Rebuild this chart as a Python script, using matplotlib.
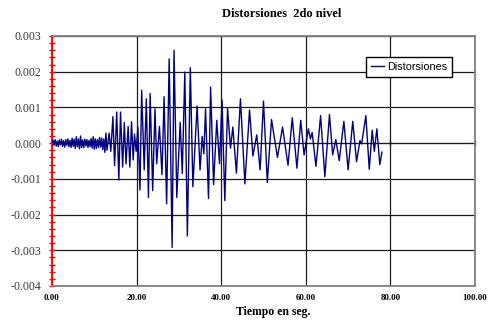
import numpy as np
import matplotlib
matplotlib.use("Agg")
import matplotlib.pyplot as plt
from matplotlib.ticker import MultipleLocator, FuncFormatter, NullFormatter

plt.rcParams["axes.unicode_minus"] = False

# Low-level ambient response sampled every 0.25 s (0 - 13 s)
noise_dt = 0.25
noise_vals = [0.0000, 0.00008, -0.00006, 0.00010, -0.00008, 0.00006, -0.00010, 0.00009,
              -0.00005, 0.00011, -0.00009, 0.00007, -0.00011, 0.00010, -0.00006, 0.00012,
              -0.00010, 0.00008, -0.00012, 0.00014, -0.00009, 0.00011, -0.00015, 0.00018,
              -0.00010, 0.00012, -0.00016, 0.00020, -0.00012, 0.00009, -0.00013, 0.00011,
              -0.00008, 0.00010, -0.00012, 0.00008, -0.00010, 0.00013, -0.00014, 0.00018,
              -0.00017, 0.00012, -0.00015, 0.00010, -0.00012, 0.00016, -0.00011, 0.00014,
              -0.00018, 0.00012, -0.00026, 0.00028, -0.00020]

# Strong-motion part: times (s) and drift values at successive peaks / troughs
peak_t = [13.5, 13.9, 14.4, 14.8, 15.3, 15.8, 16.2, 16.7, 17.1, 17.5, 18.0, 18.4, 18.8,
          19.2, 19.5, 19.9, 20.3, 20.8, 21.2, 21.8, 22.3, 22.8, 23.2, 23.8, 24.35, 24.75,
          25.4, 26.0, 26.5, 27.1, 27.7, 28.4, 28.85, 29.5, 30.3, 30.8, 31.4, 32.0, 32.7,
          33.3, 34.3, 35.0, 35.5, 35.9, 36.3, 37.0, 37.5, 38.2, 38.95, 39.6, 40.2, 40.85,
          41.5, 42.2, 42.75, 43.6, 44.55, 45.6, 46.7, 47.5, 48.4, 49.2, 50.0, 50.9, 51.9,
          53.3, 54.5, 55.8, 56.8, 57.9, 58.8, 59.6, 60.6, 61.1, 61.5, 62.4, 63.5, 64.5,
          65.6, 66.35, 67.1, 67.9, 69.0, 70.0, 71.1, 72.0, 72.8, 73.2, 74.2, 75.0, 75.7,
          76.2, 76.8, 77.5, 78.0]
peak_v = [0.00028, -0.00023, 0.00074, -0.00063, 0.00087, -0.00103, 0.00087, -0.00067,
          0.00058, -0.00058, 0.00047, -0.00067, 0.00060, -0.00047, 0.00025, -0.00023,
          0.00045, -0.00131, 0.00148, -0.00075, 0.00124, -0.00152, 0.00139, -0.00133,
          0.00096, -0.00058, 0.00047, -0.00088, 0.00130, -0.00170, 0.00236, -0.00292,
          0.00260, -0.00152, 0.00058, -0.00085, 0.00199, -0.00260, 0.00211, -0.00122,
          0.00104, -0.00075, 0.00019, -0.00030, 0.00096, -0.00155, 0.00157, -0.00116,
          0.00064, -0.00058, 0.00121, -0.00161, 0.00097, -0.00014, 0.00045, -0.00084,
          0.00124, -0.00114, 0.00093, -0.00036, 0.00023, -0.00075, 0.00118, -0.00110,
          0.00066, -0.00040, 0.00045, -0.00062, 0.00071, -0.00070, 0.00064, -0.00033,
          0.00040, 0.00012, 0.00030, -0.00065, 0.00077, -0.00094, 0.00080, -0.00033,
          0.00010, -0.00049, 0.00061, -0.00075, 0.00061, -0.00052, 0.00007, -0.00002,
          0.00077, -0.00073, 0.00036, -0.00023, 0.00040, -0.00060, -0.00025]

x_ticks = [0, 20, 40, 60, 80, 100]
y_min, y_max = -0.004, 0.003

title_text = "Distorsiones  2do nivel"
x_label = "Tiempo en seg."
series_name = "Distorsiones"

t = np.concatenate([np.arange(len(noise_vals)) * noise_dt, peak_t])
v = np.concatenate([noise_vals, peak_v])

serif = ["Liberation Serif", "DejaVu Serif"]
sans = ["Liberation Sans", "DejaVu Sans"]

fig = plt.figure(figsize=(4.92, 3.22), dpi=100)
ax = fig.add_axes([52 / 492, 36 / 322, 423 / 492, 250 / 322])

ax.plot(t, v, color="#000080", lw=1.0, label=series_name, zorder=3,
        solid_joinstyle="round")

ax.set_xlim(x_ticks[0], x_ticks[-1])
ax.set_ylim(y_min, y_max)
ax.set_xticks(x_ticks)
ax.xaxis.set_major_formatter(FuncFormatter(lambda val, pos: f"{val:.2f}"))
ax.yaxis.set_major_locator(MultipleLocator(0.001))
ax.yaxis.set_minor_locator(MultipleLocator(0.0002))
ax.yaxis.set_major_formatter(FuncFormatter(lambda val, pos: f"{round(val, 4) + 0.0:.3f}"))

ax.grid(True, which="major", color="#1a1a1a", lw=0.9, zorder=1)

for side in ("top", "right", "bottom"):
    ax.spines[side].set_color("#808080")
    ax.spines[side].set_linewidth(1.3)
ax.spines["left"].set_color("#ff0000")
ax.spines["left"].set_linewidth(1.3)

ax.tick_params(axis="y", which="major", direction="inout", length=5, width=1.0,
               color="#ff0000", labelsize=8.6, labelcolor="#3a3a3a", pad=5)
ax.tick_params(axis="y", which="minor", direction="inout", length=4, width=1.0,
               color="#ff0000")
ax.tick_params(axis="x", which="major", length=0, labelsize=6.4, pad=6)
for lbl in ax.get_yticklabels():
    lbl.set_family(serif)
for lbl in ax.get_xticklabels():
    lbl.set_family(serif)
    lbl.set_fontweight("bold")

# Horizontal axis line crossing at zero drift
zero_frac = (0 - y_min) / (y_max - y_min)
sec = ax.secondary_xaxis(zero_frac)
sec.set_xticks(x_ticks)
sec.xaxis.set_major_formatter(NullFormatter())
sec.spines["bottom"].set_color("#ff0000")
sec.spines["bottom"].set_linewidth(1.0)
sec.tick_params(axis="x", direction="inout", length=4, width=1.0, color="#ff0000")

fig.text(282 / 492, 1 - 14 / 322, title_text, ha="center", va="center",
         fontsize=9.0, fontweight="bold", family=serif)
fig.text(273 / 492, 1 - 312 / 322, x_label, ha="center", va="center",
         fontsize=8.5, fontweight="bold", family=serif)

leg = ax.legend(loc="center", bbox_to_anchor=(0.844, 0.876), fancybox=False,
                framealpha=1, edgecolor="#000000", prop={"family": sans, "size": 7.8},
                handlelength=1.2, handletextpad=0.25, borderpad=0.45,
                borderaxespad=0)
leg.get_frame().set_linewidth(1.0)

fig.savefig("out.png", dpi=100)
